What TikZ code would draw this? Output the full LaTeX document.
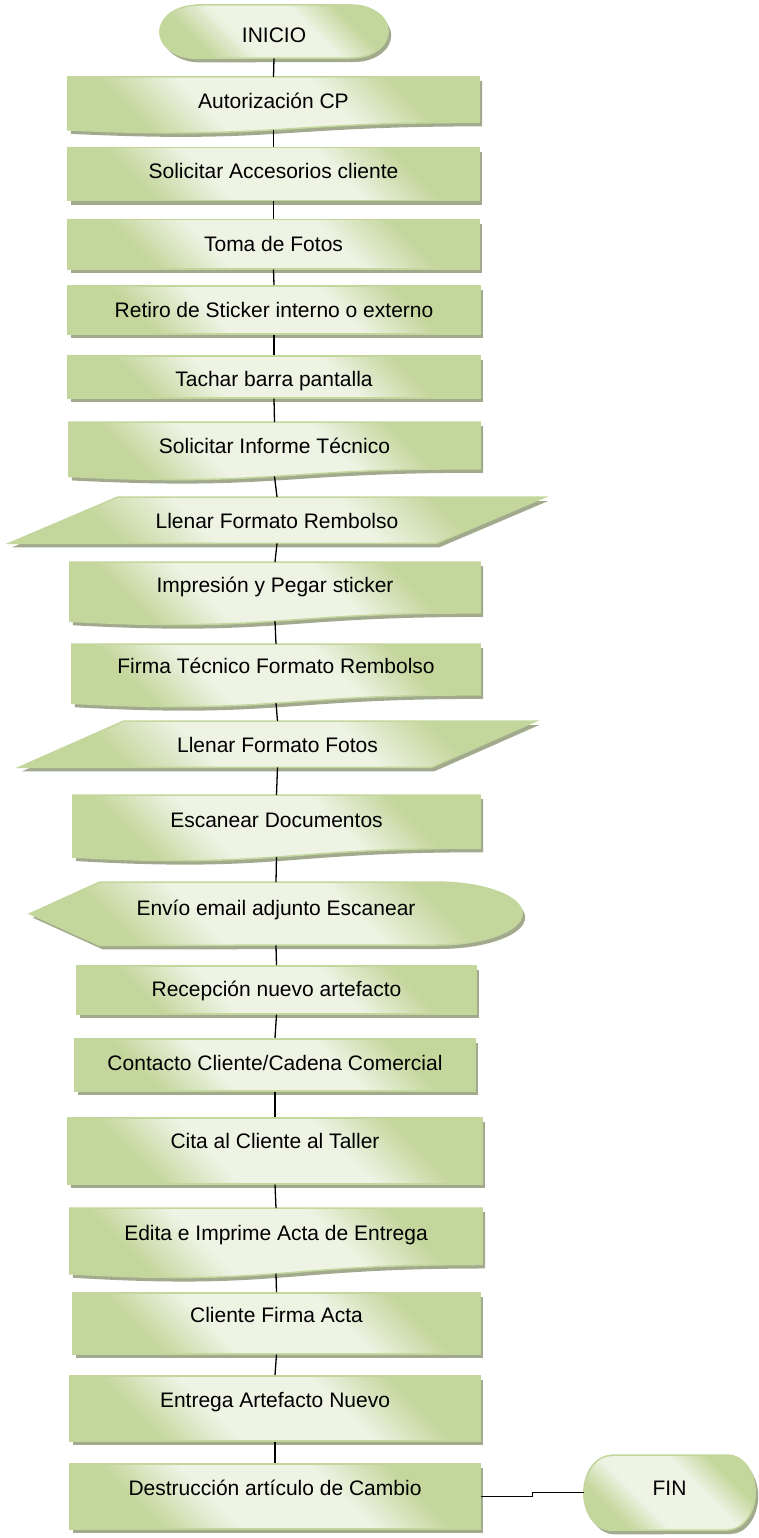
\documentclass[tikz,border=0pt]{standalone}
\usepackage{fontspec}
\setmainfont{Liberation Sans}
\usetikzlibrary{calc,shadows,backgrounds}
\definecolor{gdark}{HTML}{C3D69B}
\definecolor{glight}{HTML}{EEF3E4}
\definecolor{bordc}{HTML}{C3D69B}
\definecolor{shadowc}{HTML}{A2AA8E}
\pgfdeclareverticalshading{greenband}{100bp}{color(0bp)=(gdark); color(28bp)=(gdark); color(40bp)=(glight); color(60bp)=(glight); color(72bp)=(gdark); color(100bp)=(gdark)}
\tikzset{
  fillstyle/.style={draw=bordc, line width=1.5pt, shading=greenband, shading angle=135,
    drop shadow={shadow xshift=3pt, shadow yshift=-4pt, fill=shadowc, opacity=1}},
  txt/.style={inner sep=0pt, anchor=north, font=\fontsize{21}{24}\selectfont},
  proc/.style={txt, rectangle, fillstyle},
  lbl/.style={txt, draw=none},
  conn/.style={draw=black, line width=1.3pt},
}
% document shape (flat top, wavy bottom) drawn behind a label node
\newcommand\mydocshape[1]{\path[fillstyle] (#1.north west) -- (#1.north east)
  -- ($(#1.north east)!0.8596!(#1.south east)$)
  .. controls ($(#1.north)!0.8596!(#1.south)$) and ($(#1.north)!1.1876!(#1.south)$)
  .. ($(#1.north west)!1.0011!(#1.south west)$) -- cycle;}
% parallelogram (data)
\newcommand\myparashape[2]{\path[fillstyle] ($(#1.north west)+(#2,0)$) -- (#1.north east)
  -- ($(#1.south east)-(#2,0)$) -- (#1.south west) -- cycle;}
% terminator with elliptical ends
\newcommand\mytermshape[3]{\path[fillstyle] ($(#1.north west)+(#2,0)$) -- ($(#1.north east)-(#2,0)$)
  arc[start angle=-90,end angle=90,x radius=#2,y radius=#3]
  -- ($(#1.south west)+(#2,0)$)
  arc[start angle=90,end angle=270,x radius=#2,y radius=#3] -- cycle;}
% display shape
\newcommand\mydispshape[3]{\path[fillstyle] (#1.west) -- ($(#1.north west)!0.142!(#1.north east)$)
  -- ($(#1.north west)!0.824!(#1.north east)$)
  arc[start angle=-90,end angle=90,x radius=#2,y radius=#3]
  -- ($(#1.south west)!0.142!(#1.south east)$) -- cycle;}
\begin{document}
\begin{tikzpicture}[x=1pt,y=-1pt]
\useasboundingbox (0,0) rectangle (759,1538);

\node[lbl, minimum width=228, text height=37, text depth=16] (ini) at (274,5) {INICIO};
\node[lbl, minimum width=411, text height=31, text depth=21.4] (n1) at (273.5,77) {Autorización CP};
\node[proc, minimum width=411, text height=31, text depth=22] (n2) at (273.5,147) {Solicitar Accesorios cliente};
\node[proc, minimum width=411, text height=32, text depth=17] (n3) at (273.5,219) {Toma de Fotos};
\node[proc, minimum width=412, text height=32, text depth=16] (n4) at (274,285) {Retiro de Sticker interno o externo};
\node[proc, minimum width=412, text height=31, text depth=11] (n5) at (274,355) {Tachar barra pantalla};
\node[lbl, minimum width=411, text height=31, text depth=23] (n6) at (274.5,422) {Solicitar Informe Técnico};
\node[lbl, minimum width=536, text height=31, text depth=15] (n7) at (277,497) {Llenar Formato Rembolso};
\node[lbl, minimum width=410, text height=30, text depth=28.8] (n8) at (275,562) {Impresión y Pegar sticker};
\node[lbl, minimum width=408, text height=29, text depth=29.8] (n9) at (276,644) {Firma Técnico Formato Rembolso};
\node[lbl, minimum width=517, text height=31, text depth=15] (n10) at (277.5,721) {Llenar Formato Fotos};
\node[lbl, minimum width=407, text height=32, text depth=29.6] (n11) at (276.5,795) {Escanear Documentos};
\node[lbl, minimum width=492, text height=33, text depth=30] (n12) at (276,882) {Envío email adjunto Escanear};
\node[proc, minimum width=399, text height=31, text depth=17] (n13) at (276.5,965) {Recepción nuevo artefacto};
\node[proc, minimum width=400, text height=32, text depth=20] (n14) at (275,1038) {Contacto Cliente/Cadena Comercial};
\node[proc, minimum width=414, text height=31, text depth=35] (n15) at (275,1117) {Cita al Cliente al Taller};
\node[lbl, minimum width=412, text height=32, text depth=33.3] (n16) at (276,1208) {Edita e Imprime Acta de Entrega};
\node[proc, minimum width=407, text height=30, text depth=31] (n17) at (276.5,1292) {Cliente Firma Acta};
\node[proc, minimum width=410, text height=32, text depth=33] (n18) at (275,1375) {Entrega Artefacto Nuevo};
\node[proc, minimum width=410, text height=32, text depth=33] (n19) at (275,1463) {Destrucción artículo de Cambio};
\node[lbl, minimum width=171, text height=40, text depth=35] (fin) at (669.5,1455) {FIN};

\begin{scope}[on background layer]
  \mytermshape{ini}{36.7}{26.5}
  \mydocshape{n1}
  \mydocshape{n6}
  \myparashape{n7}{109}
  \mydocshape{n8}
  \mydocshape{n9}
  \myparashape{n10}{105}
  \mydocshape{n11}
  \mydispshape{n12}{86.6}{31.5}
  \mydocshape{n16}
  \mytermshape{fin}{27.5}{37.5}
\end{scope}

\foreach \a/\b in {ini/n1,n1/n2,n2/n3,n3/n4,n4/n5,n5/n6,n6/n7,n7/n8,n8/n9,n9/n10,n10/n11,n11/n12,n12/n13,n13/n14,n14/n15,n15/n16,n16/n17,n17/n18,n18/n19}
  \draw[conn] (\a.south) -- (\b.north);
\draw[conn] (n19.east) -| ($(n19.east)!0.5!(fin.west)$) |- (fin.west);
\end{tikzpicture}
\end{document}
